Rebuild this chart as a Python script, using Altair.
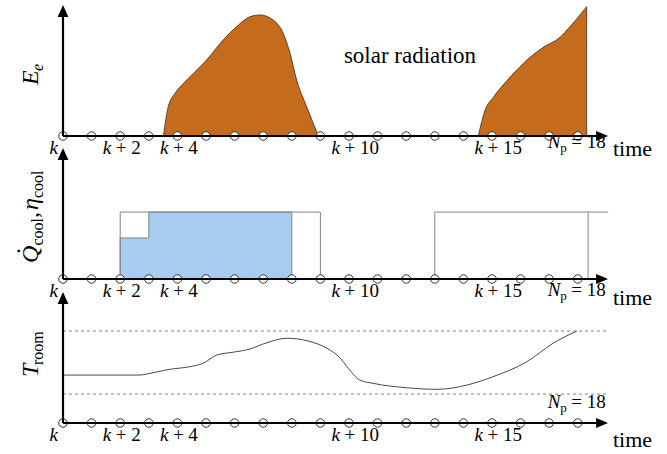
import altair as alt
import pandas as pd

FONT = "Liberation Serif"
W = 667
STEP_PX = 28.6      # pixels per time step
ORIGIN_PX = 63      # pixel position of step k
UNIT_PX = 131.0     # pixels per unit of the y axis (axis height)
BASE_PX = 136       # baseline position inside each panel
PANEL_H = [143, 144, 167]

# ---------------- data ----------------
steps = list(range(19))
tick_idx = [2, 4, 10, 15]
tick_txt = ["+ 2", "+ 4", "+ 10", "+ 15"]
horizon = 18

sun1_x = [3.51, 3.68, 3.92, 4.21, 4.56, 5.02, 5.60, 6.07, 6.54, 6.89, 7.35, 7.70, 7.94, 8.17, 8.52, 8.93]
sun1_y = [0.0, 0.224, 0.326, 0.402, 0.478, 0.580, 0.733, 0.835, 0.911, 0.924, 0.885, 0.784, 0.631, 0.427, 0.224, 0.0]
sun2_x = [14.52, 14.76, 15.05, 15.63, 16.33, 16.79, 17.38, 17.73, 18.31]
sun2_y = [0.0, 0.198, 0.296, 0.448, 0.601, 0.677, 0.753, 0.835, 0.987]

cool_x = [2, 3, 8]
cool_y = [0.313, 0.511, 0.511]
eta_start = [2]
eta_end = [9]
eta_level = [0.511]
eta2_x = [13, 13, 19.06]
eta2_y = [0.0, 0.511, 0.511]
horizon_end = 18.36

troom_x = [0, 2.69, 3.04, 3.74, 4.44, 4.90, 5.38, 5.94, 6.54, 7.13, 7.83, 8.53, 9.23, 9.69, 9.93,
           10.38, 10.84, 12.03, 13.08, 14.13, 15.03, 16.22, 17.13, 17.97]
troom_y = [0.366, 0.366, 0.379, 0.410, 0.430, 0.456, 0.519, 0.540, 0.565, 0.613, 0.647, 0.628, 0.570,
           0.496, 0.430, 0.328, 0.303, 0.269, 0.257, 0.290, 0.353, 0.468, 0.608, 0.702]
t_upper = 0.702
t_lower = 0.221

X_END = 19.06
Y_TOP = 1.0

ORANGE = "#c46b1e"
BLUE = "#a8ccf0"
GRAY = "#858585"

RIGHT_ARROW = "M0,0 L-1,-0.42 L-1,0.42 Z"
UP_ARROW = "M0,0 L-0.45,1 L0.45,1 Z"

XS = alt.Scale(domain=[-ORIGIN_PX / STEP_PX, (W - ORIGIN_PX) / STEP_PX], nice=False, zero=False)


def yscale(h):
    top = BASE_PX / UNIT_PX
    return alt.Scale(domain=[top - h / UNIT_PX, top], nice=False, zero=False)


def layer(df, ys, markfn, **enc):
    base = dict(x=alt.X("x:Q", scale=XS, axis=None), y=alt.Y("y:Q", scale=ys, axis=None))
    base.update(enc)
    return markfn(alt.Chart(df)).encode(**base)


def one(x, y):
    return pd.DataFrame({"x": [x], "y": [y]})


def txt(ys, x, y, text, size=18, style="normal", align="left", dx=0, dy=0, angle=0):
    return layer(one(x, y), ys, lambda c: c.mark_text(
        text=text, font=FONT, fontSize=size, fontStyle=style, align=align,
        baseline="alphabetic", dx=dx, dy=dy, angle=angle, color="black"))


def axes(ys):
    circ = layer(pd.DataFrame({"x": steps, "y": [0] * len(steps)}), ys, lambda c: c.mark_point(
        shape="circle", size=72, filled=True, fill="white", stroke="#333333", strokeWidth=1, opacity=1))
    xr = layer(pd.DataFrame({"x": [0], "x2": [X_END - 0.25], "y": [0]}), ys,
               lambda c: c.mark_rule(color="black", strokeWidth=2.2), x2=alt.X2("x2:Q"))
    yr = layer(pd.DataFrame({"x": [0], "y": [0], "y2": [Y_TOP - 0.05]}), ys,
               lambda c: c.mark_rule(color="black", strokeWidth=2.2), y2=alt.Y2("y2:Q"))
    xa = layer(one(X_END, 0), ys, lambda c: c.mark_point(
        shape=RIGHT_ARROW, size=576, filled=True, color="black", opacity=1))
    ya = layer(one(0, Y_TOP), ys, lambda c: c.mark_point(
        shape=UP_ARROW, size=576, filled=True, color="black", opacity=1))
    return [circ, xr, yr, xa, ya]


def tick_labels(ys, dy=18):
    df = pd.DataFrame({"x": tick_idx, "y": [0] * len(tick_idx), "t": tick_txt})
    kk = layer(df, ys, lambda c: c.mark_text(
        text="k", font=FONT, fontSize=19, fontStyle="italic", align="right",
        baseline="alphabetic", dx=-9, dy=dy, color="black"))
    rest = layer(df, ys, lambda c: c.mark_text(
        font=FONT, fontSize=19, align="left", baseline="alphabetic", dx=-4.5, dy=dy, color="black"),
        text="t:N")
    k0 = txt(ys, 0, 0, "k", size=19, style="italic", align="right", dx=-5, dy=dy)
    return [kk, rest, k0]


def np_label(ys, dy):
    return [
        txt(ys, horizon, 0, "N", size=19, style="italic", dx=-30, dy=dy),
        txt(ys, horizon, 0, "p", size=13, dx=-17.5, dy=dy + 4),
        txt(ys, horizon, 0, "= 18", size=19, dx=-6.5, dy=dy),
    ]


def time_label(ys, dy):
    return [txt(ys, (613 - ORIGIN_PX) / STEP_PX, 0, "time", size=22, dy=dy)]


LX = (38 - ORIGIN_PX) / STEP_PX


def rot_label(ys, y, pieces):
    out = []
    for (t, size, style, dx, dy, align) in pieces:
        out.append(txt(ys, LX, y, t, size=size, style=style, align=align, dx=dx, dy=dy, angle=270))
    return out


# ---------------- panel 1: solar radiation ----------------
ys1 = yscale(PANEL_H[0])
sun1 = layer(pd.DataFrame({"x": sun1_x, "y": sun1_y, "y2": [0] * len(sun1_x)}), ys1,
             lambda c: c.mark_area(color=ORANGE, opacity=1, stroke="#3d2a18", strokeWidth=0.8,
                                   interpolate="monotone"), y2=alt.Y2("y2:Q"))
sun2 = layer(pd.DataFrame({"x": sun2_x, "y": sun2_y, "y2": [0] * len(sun2_x)}), ys1,
             lambda c: c.mark_area(color=ORANGE, opacity=1, stroke="#3d2a18", strokeWidth=0.8,
                                   interpolate="monotone"), y2=alt.Y2("y2:Q"))
p1_layers = [sun1, sun2] + axes(ys1) + tick_labels(ys1) + np_label(ys1, 12) + time_label(ys1, 20)
p1_layers += [txt(ys1, (410 - ORIGIN_PX) / STEP_PX, (BASE_PX - 63) / UNIT_PX, "solar radiation",
                  size=23, align="center")]
p1_layers += rot_label(ys1, (136 - 85) / UNIT_PX, [
    ("E", 24, "italic", 0, 0, "left"),
    ("e", 16, "italic", 14, 5, "left"),
])
panel1 = alt.layer(*p1_layers).properties(width=W, height=PANEL_H[0])

# ---------------- panel 2: cooling ----------------
ys2 = yscale(PANEL_H[1])
cool = layer(pd.DataFrame({"x": cool_x, "y": cool_y, "y2": [0] * len(cool_x)}), ys2,
             lambda c: c.mark_area(color=BLUE, opacity=1, stroke=GRAY, strokeWidth=1,
                                   interpolate="step-after"), y2=alt.Y2("y2:Q"))
eta1 = alt.Chart(pd.DataFrame({"x": eta_start, "x2": eta_end, "y": [0], "y2": eta_level})).mark_rect(
    fillOpacity=0, stroke=GRAY, strokeWidth=1).encode(
    x=alt.X("x:Q", scale=XS, axis=None), x2="x2:Q",
    y=alt.Y("y:Q", scale=ys2, axis=None), y2="y2:Q")
eta2 = layer(pd.DataFrame({"x": eta2_x, "y": eta2_y, "o": [0, 1, 2]}), ys2,
             lambda c: c.mark_line(color=GRAY, strokeWidth=1), order=alt.Order("o:Q"))
hz = layer(pd.DataFrame({"x": [horizon_end], "y": [0], "y2": eta_level}), ys2,
           lambda c: c.mark_rule(color=GRAY, strokeWidth=1), y2=alt.Y2("y2:Q"))
p2_layers = [cool, eta1, eta2, hz] + axes(ys2) + tick_labels(ys2) + np_label(ys2, 17) + time_label(ys2, 26)
p2_layers += rot_label(ys2, (279 - 263) / UNIT_PX, [
    ("Q", 24, "italic", 0, 0, "left"),
    (".", 24, "normal", 12, -18, "center"),
    ("cool", 16, "normal", 17.5, 5, "left"),
    (",", 24, "normal", 45, 0, "left"),
    ("η", 24, "italic", 53, 0, "left"),
    ("cool", 16, "normal", 65, 5, "left"),
])
panel2 = alt.layer(*p2_layers).properties(width=W, height=PANEL_H[1])

# ---------------- panel 3: room temperature ----------------
ys3 = yscale(PANEL_H[2])
dash = layer(pd.DataFrame({"x": [0, 0], "x2": [X_END, X_END], "y": [t_upper, t_lower]}), ys3,
             lambda c: c.mark_rule(color=GRAY, strokeWidth=1, strokeDash=[3, 3]), x2=alt.X2("x2:Q"))
curve = layer(pd.DataFrame({"x": troom_x, "y": troom_y}), ys3,
              lambda c: c.mark_line(color="#4a4a4a", strokeWidth=1, interpolate="monotone"))
p3_layers = [dash, curve] + axes(ys3) + tick_labels(ys3) + np_label(ys3, -15) + time_label(ys3, 24)
p3_layers += rot_label(ys3, (423 - 377) / UNIT_PX, [
    ("T", 24, "italic", 0, 0, "left"),
    ("room", 16, "normal", 12, 5, "left"),
])
panel3 = alt.layer(*p3_layers).properties(width=W, height=PANEL_H[2])

chart = alt.vconcat(panel1, panel2, panel3, spacing=0, bounds="flush").properties(
    padding=0, background="white"
).configure_view(stroke=None)

chart.save("out.html", embed_options={"renderer": "svg", "actions": False})
